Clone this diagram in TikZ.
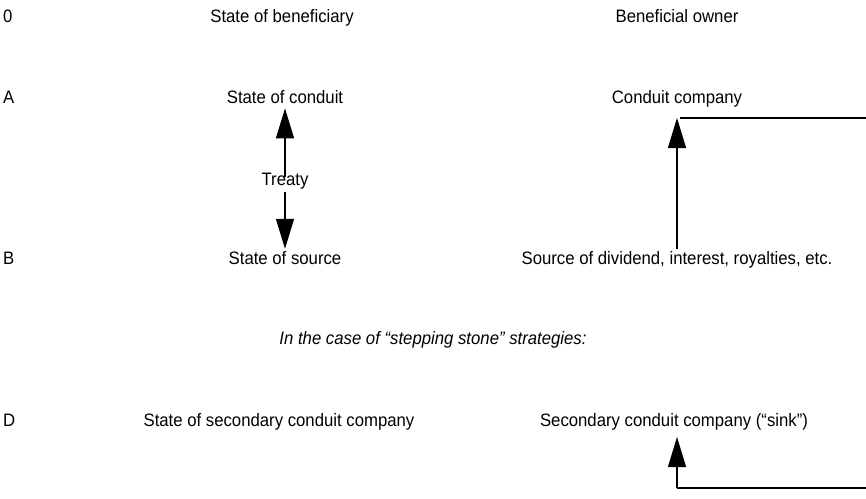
\documentclass[tikz,border=0pt]{standalone}
\usepackage{fontspec}
\setmainfont{Liberation Sans}[FakeStretch=0.93]
\usetikzlibrary{arrows.meta}

\tikzset{
  lbl/.style={font=\fontsize{18}{21}\selectfont, inner sep=0pt, anchor=base},
  row/.style={lbl, anchor=base west},
  flow/.style={line width=1.3pt, -{Triangle[length=30pt,width=18pt]}}
}

\begin{document}
\begin{tikzpicture}[x=1pt,y=-1pt]
\useasboundingbox (0,0) rectangle (866,498);
% row labels
\node[row] (r0) at (3,22) {0};
\node[row] (rA) at (3,103) {A};
\node[row] (rB) at (3,264) {B};
\node[row] (rD) at (3,426) {D};
% states
\node[lbl] (benstate) at (282,22) {State of beneficiary};
\node[lbl] (constate) at (285,103) {State of conduit};
\node[lbl] (srcstate) at (285,264) {State of source};
\node[lbl] (secstate) at (279,426) {State of secondary conduit company};
% companies
\node[lbl] (owner) at (677,22) {Beneficial owner};
\node[lbl] (conduit) at (677,103) {Conduit company};
\node[lbl] (source) at (677,264) {Source of dividend, interest, royalties, etc.};
\node[lbl] (sink) at (674,426) {Secondary conduit company (``sink'')};
\node[lbl] (note) at (433,344) {\itshape In the case of ``stepping stone'' strategies:};
\node[lbl] (treaty) at (285,185) {Treaty};
% connectors
\coordinate (ctip) at (677,118);
\coordinate (cend) at (866,118);
\coordinate (ssrc) at (677,249);
\coordinate (stip) at (677,437);
\coordinate (sbot) at (677,488);
\coordinate (send) at (866,488);
\draw[flow, shorten <=-5pt, shorten >=5pt] (treaty.north) -- (constate.south);
\draw[flow, shorten <=3pt, shorten >=2pt] (treaty.south) -- (srcstate.north);
\draw[flow] (ssrc) -- (ctip);
\draw[line width=1.3pt] ([xshift=3pt]ctip) -- (cend);
\draw[flow] (sbot) -- (stip);
\draw[line width=1.3pt] (sbot) -- (send);
\end{tikzpicture}
\end{document}
